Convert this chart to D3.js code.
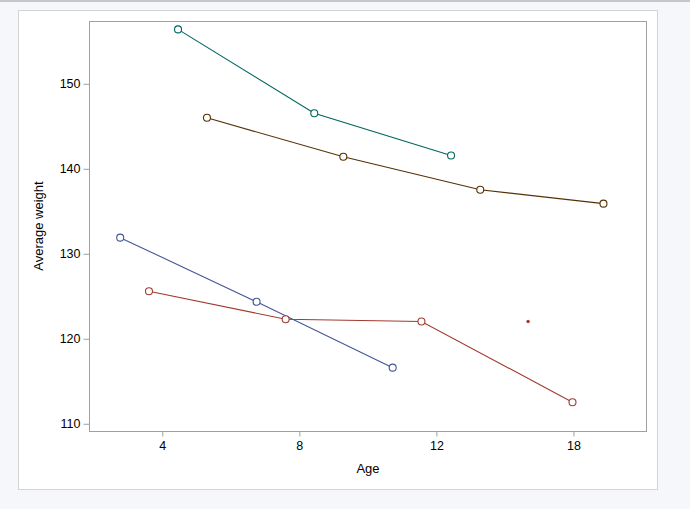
<!DOCTYPE html>
<html>
<head>
<meta charset="utf-8">
<script src="https://cdn.jsdelivr.net/npm/d3@7"></script>
<style>
  html, body { margin: 0; padding: 0; background: #f6f7fb; }
  svg { display: block; }
  text { font-family: "Liberation Sans", Arial, sans-serif; fill: #000; }
</style>
</head>
<body>
<svg id="chart" width="690" height="509"></svg>
<script>
// Age-group tick positions (group index) and their labels
const tickIndex = [1, 2, 3, 4];
const tickLabels = ["4", "8", "12", "18"];
const yTicks = [110, 120, 130, 140, 150];

// Series: x is position on the age-group axis (clustered), y is average weight
const blueX = [0.693, 1.688, 2.681];
const blueY = [131.9, 124.35, 116.6];
const redX = [0.903, 1.900, 2.891, 3.993];
const redY = [125.6, 122.3, 122.04, 112.54];
const tealX = [1.115, 2.109, 3.107];
const tealY = [156.4, 146.54, 141.56];
const brownX = [1.326, 2.321, 3.320, 4.219];
const brownY = [146.0, 141.41, 137.53, 135.9];
const dotX = [3.669];
const dotY = [122.04];

const seriesColors = ["#445694", "#A23A2E", "#01665E", "#543005"];

const series = [
  { xs: blueX, ys: blueY, color: seriesColors[0] },
  { xs: redX, ys: redY, color: seriesColors[1] },
  { xs: tealX, ys: tealY, color: seriesColors[2] },
  { xs: brownX, ys: brownY, color: seriesColors[3] }
];

const svg = d3.select("#chart");

// top grey strip
svg.append("rect").attr("x", 0).attr("y", 0).attr("width", 690).attr("height", 2).attr("fill", "#c4c6cc");

// outer white panel
svg.append("rect")
  .attr("x", 18.5).attr("y", 10.5).attr("width", 639).attr("height", 479)
  .attr("fill", "#ffffff").attr("stroke", "#d4d4d4");

const plot = { left: 89.5, right: 646.5, top: 21.5, bottom: 431.5 };

const x = d3.scaleLinear().domain([0.469, 4.533]).range([plot.left, plot.right]);
const y = d3.scaleLinear().domain([109.09, 157.33]).range([plot.bottom, plot.top]);

// plot frame
svg.append("rect")
  .attr("x", plot.left).attr("y", plot.top)
  .attr("width", plot.right - plot.left).attr("height", plot.bottom - plot.top)
  .attr("fill", "#ffffff").attr("stroke", "#a0a0a0");

// x axis
const xAxis = d3.axisBottom(x)
  .tickValues(tickIndex)
  .tickFormat((d, i) => tickLabels[i])
  .tickSize(5).tickSizeOuter(0).tickPadding(5);
const gx = svg.append("g").attr("transform", `translate(0,${plot.bottom})`).call(xAxis);
gx.select(".domain").remove();
gx.selectAll(".tick line").attr("stroke", "#a0a0a0");
gx.selectAll(".tick text").attr("font-size", 12.5).style("font-family", "Liberation Sans, Arial, sans-serif");

// y axis
const yAxis = d3.axisLeft(y).tickValues(yTicks).tickSize(6).tickSizeOuter(0).tickPadding(3);
const gy = svg.append("g").attr("transform", `translate(${plot.left},0)`).call(yAxis);
gy.select(".domain").remove();
gy.selectAll(".tick line").attr("stroke", "#a0a0a0");
gy.selectAll(".tick text").attr("font-size", 12.5).style("font-family", "Liberation Sans, Arial, sans-serif");

// axis titles
svg.append("text")
  .attr("x", (plot.left + plot.right) / 2).attr("y", 473)
  .attr("text-anchor", "middle").attr("font-size", 13).text("Age");
svg.append("text")
  .attr("transform", `translate(43,226) rotate(-90)`)
  .attr("text-anchor", "middle").attr("font-size", 13).text("Average weight");

// lines and markers
const line = d3.line().x(d => x(d[0])).y(d => y(d[1]));
series.forEach(s => {
  const pts = s.xs.map((v, i) => [v, s.ys[i]]);
  svg.append("path").datum(pts)
    .attr("d", line).attr("fill", "none")
    .attr("stroke", s.color).attr("stroke-width", 1.1);
  svg.selectAll(null).data(pts).enter().append("circle")
    .attr("cx", d => x(d[0])).attr("cy", d => y(d[1]))
    .attr("r", 3.5).attr("fill", "#ffffff")
    .attr("stroke", s.color).attr("stroke-width", 1.1);
});

// isolated dot
svg.selectAll(null).data(dotX.map((v, i) => [v, dotY[i]])).enter().append("circle")
  .attr("cx", d => x(d[0])).attr("cy", d => y(d[1]))
  .attr("r", 1.7).attr("fill", seriesColors[1]);
</script>
</body>
</html>
